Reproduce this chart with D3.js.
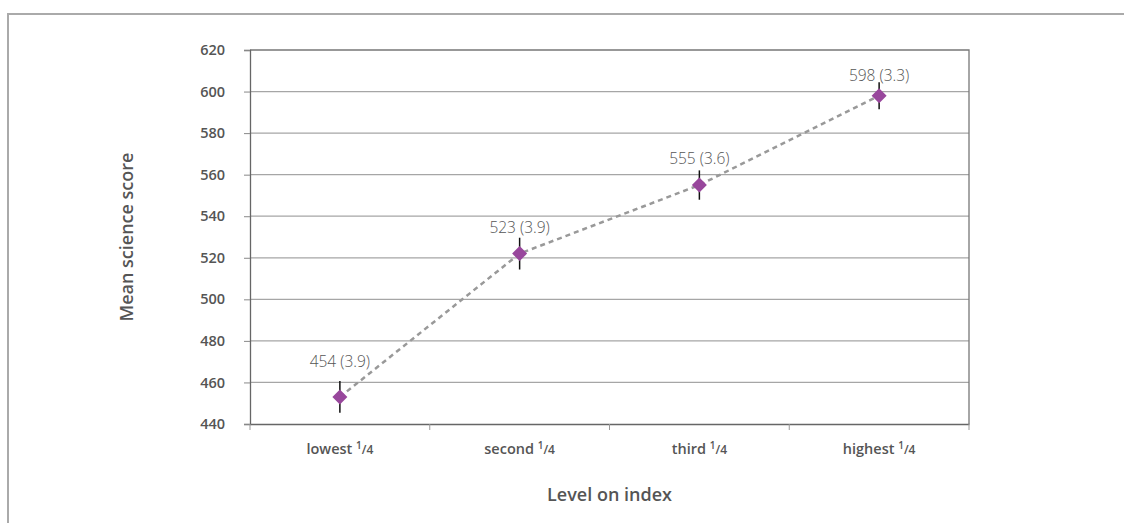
<!DOCTYPE html>
<html><head><meta charset="utf-8">
<script src="https://cdn.jsdelivr.net/npm/d3@7"></script>
<style>body{margin:0;background:#fff}svg{display:block}</style>
</head><body>
<script>
const categories = ["lowest", "second", "third", "highest"];
const means = [454, 523, 555, 598];
const plotted = [453, 522, 555, 598];
const stdErrors = [3.9, 3.9, 3.6, 3.3];
const yTicks = [440, 460, 480, 500, 520, 540, 560, 580, 600, 620];

const W = 1124, H = 523;
const m = {left: 250, right: 155, top: 50, bottom: 99};
const svg = d3.select("body").append("svg").attr("width", W).attr("height", H);
const font = "'Open Sans','Noto Sans',sans-serif";
const grey = "#555";

// outer frame
svg.append("path").attr("d", `M8,${H}V14H${W}`).attr("fill","none").attr("stroke","#aaa").attr("stroke-width",2);

const x = d3.scaleBand().domain(categories).range([m.left, W - m.right]).padding(0);
const y = d3.scaleLinear().domain([440, 620]).range([H - m.bottom, m.top]);

// gridlines
svg.append("g").selectAll("line").data(yTicks.slice(1, -1)).join("line")
  .attr("x1", m.left).attr("x2", W - m.right).attr("y1", d => y(d)).attr("y2", d => y(d))
  .attr("stroke", "#a6a6a6").attr("stroke-width", 1.2);
// plot frame top/right
svg.append("path").attr("d", `M${m.left},${y(620)}H${W-m.right}V${y(440)}`)
  .attr("fill","none").attr("stroke","#777").attr("stroke-width",1.3);

// y axis
const ya = svg.append("g").attr("transform", `translate(${m.left},0)`)
  .call(d3.axisLeft(y).tickValues(yTicks).tickSize(6).tickPadding(19).tickFormat(d3.format("d")));
ya.select(".domain").attr("stroke","#666").attr("stroke-width",1.3);
ya.selectAll(".tick line").attr("stroke","#888");
ya.selectAll("text").attr("font-family", font).attr("font-weight",600).attr("font-size",14.5).attr("fill",grey);

// x axis
const xa = svg.append("g").attr("transform", `translate(0,${y(440)})`)
  .call(d3.axisBottom(x).tickSize(0).tickPadding(20));
xa.select(".domain").attr("stroke","#666").attr("stroke-width",1.3);
xa.selectAll(".tick text").each(function(d){
  const t = d3.select(this).text(null).attr("font-family", font).attr("font-weight",600).attr("font-size",14.5).attr("fill",grey);
  t.append("tspan").text(d + " ");
  t.append("tspan").attr("dy",-5).attr("font-size",10).text("1");
  t.append("tspan").attr("dy",5).attr("font-size",12).text("/4");
});
// band boundary ticks
const bounds = categories.map(c => x(c)).concat([x(categories[categories.length-1]) + x.bandwidth()]);
svg.append("g").selectAll("line").data(bounds).join("line")
  .attr("x1", d => d).attr("x2", d => d).attr("y1", y(440)).attr("y2", y(440) + 6)
  .attr("stroke","#999").attr("stroke-width",1);

// axis titles
svg.append("text").attr("x", (m.left + W - m.right)/2).attr("y", 501).attr("text-anchor","middle")
  .attr("font-family",font).attr("font-weight",600).attr("font-size",18).attr("fill",grey).text("Level on index");
svg.append("text").attr("transform", `translate(133,${(y(440)+y(620))/2}) rotate(-90)`).attr("text-anchor","middle")
  .attr("font-family",font).attr("font-weight",600).attr("font-size",18).attr("fill",grey).text("Mean science score");

const cx = i => x(categories[i]) + x.bandwidth()/2;
const pts = plotted.map((v,i) => [cx(i), y(v)]);

// dashed line
svg.append("path").attr("d", d3.line()(pts)).attr("fill","none")
  .attr("stroke","#999").attr("stroke-width",2.5).attr("stroke-dasharray","5,4");

// error bars (±1.96 SE)
svg.append("g").selectAll("line").data(plotted).join("line")
  .attr("x1",(d,i)=>cx(i)).attr("x2",(d,i)=>cx(i))
  .attr("y1",(d,i)=>y(d + 1.96*stdErrors[i])).attr("y2",(d,i)=>y(d - 1.96*stdErrors[i]))
  .attr("stroke","#111").attr("stroke-width",1.5);

// markers
svg.append("g").selectAll("path").data(plotted).join("path")
  .attr("transform",(d,i)=>`translate(${cx(i)},${y(d)})`)
  .attr("d","M0,-7.5L7.5,0L0,7.5L-7.5,0Z").attr("fill","#98479c");

// value labels
const labelOffset = [30, 21, 21, 15];
svg.append("g").selectAll("text").data(means).join("text")
  .attr("x",(d,i)=>cx(i)).attr("y",(d,i)=>y(plotted[i]) - labelOffset[i])
  .attr("text-anchor","middle").attr("font-family",font).attr("font-weight",300).attr("font-size",15.5).attr("fill","#555")
  .text((d,i)=>`${d} (${stdErrors[i].toFixed(1)})`);
</script>
</body></html>
